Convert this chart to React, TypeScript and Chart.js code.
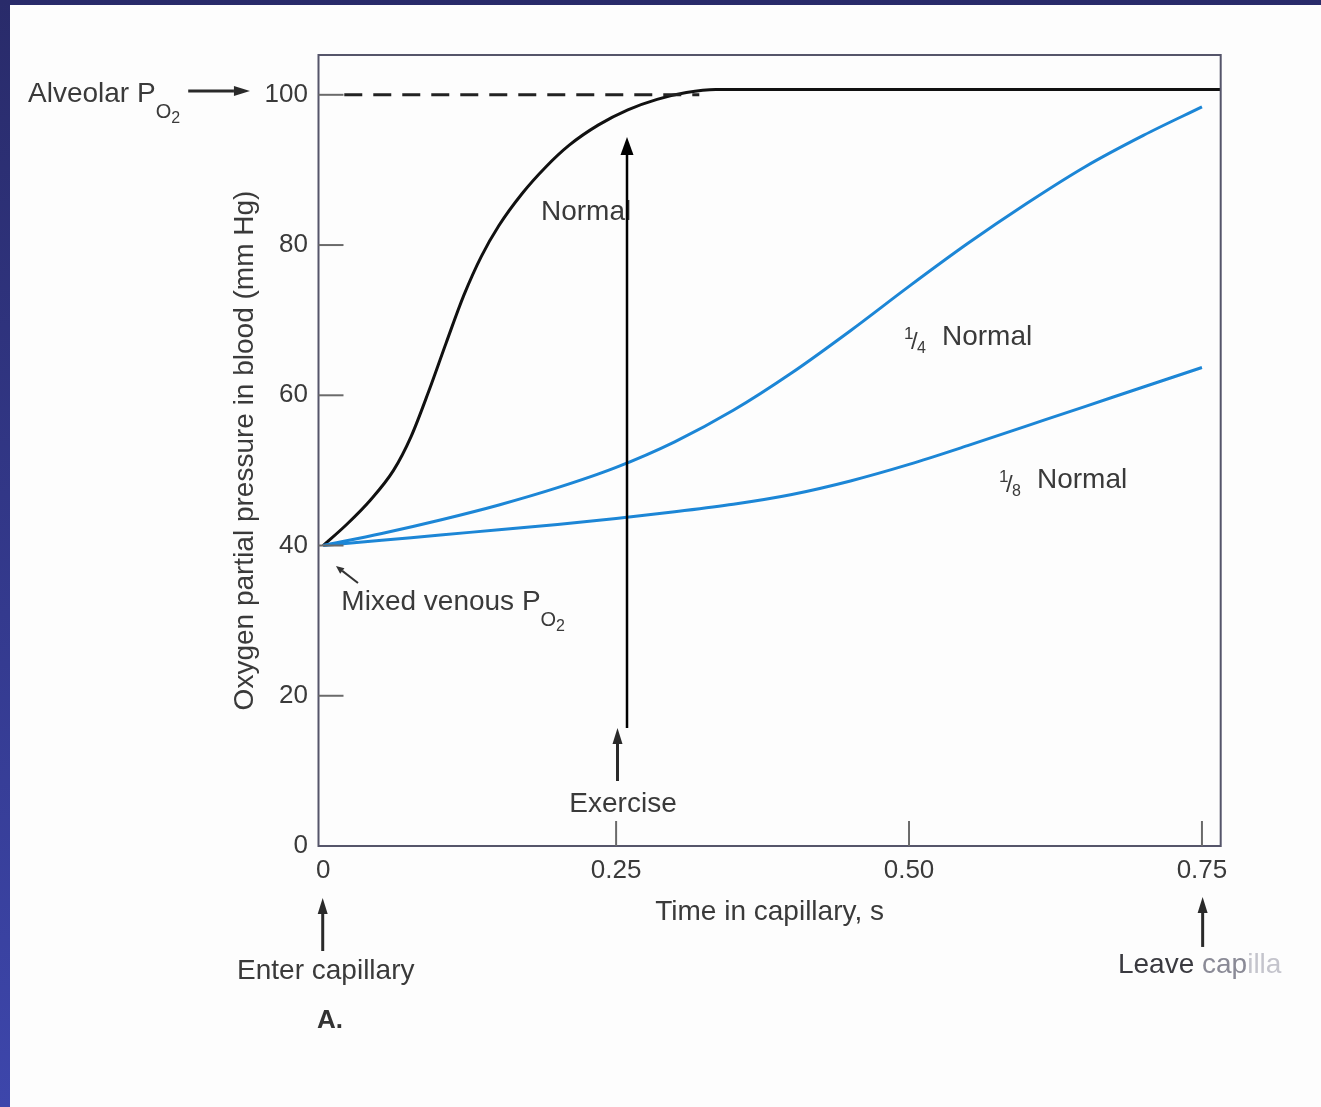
import React, { useEffect, useRef } from "react";
import { Chart, registerables } from "chart.js";

Chart.register(...registerables);

// ---- data (time in capillary, s / PO2 mm Hg) ----
const normalT = [0, 0.02, 0.04, 0.06, 0.075, 0.09, 0.105, 0.12, 0.135, 0.15, 0.17, 0.19, 0.21, 0.235, 0.26, 0.285, 0.31, 0.335, 0.766];
const normalV = [40, 42.8, 46.0, 50.0, 54.5, 60.5, 67.0, 73.3, 78.5, 82.6, 86.9, 90.4, 93.3, 96.0, 98.0, 99.4, 100.3, 100.7, 100.7];

const quarterT = [0, 0.05, 0.1, 0.15, 0.2, 0.25, 0.3, 0.35, 0.4, 0.45, 0.5, 0.55, 0.6, 0.65, 0.7, 0.75];
const quarterV = [40, 41.6, 43.4, 45.4, 47.7, 50.4, 53.8, 58.0, 63.0, 68.6, 74.5, 80.2, 85.5, 90.4, 94.6, 98.4];

const eighthT = [0, 0.05, 0.1, 0.15, 0.2, 0.25, 0.3, 0.35, 0.4, 0.45, 0.5, 0.55, 0.6, 0.65, 0.7, 0.75];
const eighthV = [40, 40.7, 41.4, 42.1, 42.8, 43.6, 44.5, 45.5, 46.8, 48.6, 50.8, 53.3, 55.9, 58.5, 61.1, 63.7];

const alveolarT = [0.018, 0.321];
const alveolarV = [100, 100];

const xTicks = [0, 0.25, 0.5, 0.75];
const xTickLabels = ["0", "0.25", "0.50", "0.75"];
const yTicks = [0, 20, 40, 60, 80, 100];
const yTickLabels = ["0", "20", "40", "60", "80", "100"];

const X_MIN = -0.004;
const X_MAX = 0.766;
const Y_MIN = 0;
const Y_MAX = 105.3;

const X_TITLE = "Time in capillary, s";
const Y_TITLE = "Oxygen partial pressure in blood (mm Hg)";

const FONT = '"Liberation Sans", Arial, Helvetica, sans-serif';
const TEXT = "#3a3a3a";
const BLUE = "#1c86d6";

const pts = (t: number[], v: number[]) => t.map((x, i) => ({ x, y: v[i] }));

function arrow(ctx: CanvasRenderingContext2D, x1: number, y1: number, x2: number, y2: number, hl: number, hw: number, lw: number, color: string) {
  const a = Math.atan2(y2 - y1, x2 - x1);
  const bx = x2 - hl * Math.cos(a);
  const by = y2 - hl * Math.sin(a);
  ctx.save();
  ctx.strokeStyle = color;
  ctx.fillStyle = color;
  ctx.lineWidth = lw;
  ctx.beginPath();
  ctx.moveTo(x1, y1);
  ctx.lineTo(bx, by);
  ctx.stroke();
  ctx.beginPath();
  ctx.moveTo(x2, y2);
  ctx.lineTo(bx + (hw / 2) * Math.sin(a), by - (hw / 2) * Math.cos(a));
  ctx.lineTo(bx - (hw / 2) * Math.sin(a), by + (hw / 2) * Math.cos(a));
  ctx.closePath();
  ctx.fill();
  ctx.restore();
}

function text(ctx: CanvasRenderingContext2D, s: string, x: number, y: number, size: number, color = TEXT, align: CanvasTextAlign = "left", weight = "normal") {
  ctx.font = `${weight} ${size}px ${FONT}`;
  ctx.fillStyle = color;
  ctx.textAlign = align;
  ctx.textBaseline = "alphabetic";
  ctx.fillText(s, x, y);
  return ctx.measureText(s).width;
}

// "P" with subscript O and sub-subscript 2; x,y = left / baseline
function po2(ctx: CanvasRenderingContext2D, x: number, y: number) {
  const w = text(ctx, "P", x, y, 28);
  const w2 = text(ctx, "O", x + w, y + 16, 20);
  text(ctx, "2", x + w + w2, y + 21, 16);
  return w + w2 + 10;
}

// fraction "1/n Normal"; x,y = left / baseline
function fraction(ctx: CanvasRenderingContext2D, den: string, x: number, y: number) {
  text(ctx, "1", x + 1, y - 6, 17);
  text(ctx, "/", x + 8, y + 4, 24);
  text(ctx, den, x + 14, y + 8, 16);
  text(ctx, "Normal", x + 39, y, 28);
}

const framePlugin = {
  id: "frameAndNotes",
  afterDatasetsDraw(chart: any) {
    const ctx: CanvasRenderingContext2D = chart.ctx;
    const { left, right, top, bottom } = chart.chartArea;
    const xs = chart.scales.x;
    const ys = chart.scales.y;
    const X = (t: number) => xs.getPixelForValue(t);
    const Y = (v: number) => ys.getPixelForValue(v);

    ctx.save();
    // frame
    ctx.strokeStyle = "#55556a";
    ctx.lineWidth = 2;
    ctx.strokeRect(left, top, right - left, bottom - top);
    // inward ticks
    ctx.strokeStyle = "#6a6a6a";
    ctx.lineWidth = 2;
    yTicks.forEach((v) => {
      if (v === Y_MIN) return;
      ctx.beginPath();
      ctx.moveTo(left, Y(v));
      ctx.lineTo(left + 25, Y(v));
      ctx.stroke();
    });
    xTicks.forEach((t) => {
      if (t === 0) return;
      ctx.beginPath();
      ctx.moveTo(X(t), bottom);
      ctx.lineTo(X(t), bottom - 25);
      ctx.stroke();
    });

    // curve labels
    text(ctx, "Normal", X(0.1859), Y(83.33), 28);
    fraction(ctx, "4", X(0.4948), Y(66.7));
    fraction(ctx, "8", X(0.5759), Y(47.66));

    // mixed venous
    const mw = text(ctx, "Mixed venous ", X(0.0155), Y(31.42), 28);
    po2(ctx, X(0.0155) + mw, Y(31.42));
    arrow(ctx, X(0.0297), Y(35.01), X(0.0109), Y(37.27), 8, 7, 2, "#333");

    // alveolar
    const aw = text(ctx, "Alveolar ", X(-0.2519), Y(99.04), 28);
    po2(ctx, X(-0.2519) + aw, Y(99.04));
    arrow(ctx, X(-0.1152), Y(100.5), X(-0.0625), Y(100.5), 16, 10, 3, "#2a2a2a");

    // exercise
    arrow(ctx, X(0.2593), Y(15.71), X(0.2593), Y(94.38), 18, 13, 2.5, "#000");
    arrow(ctx, X(0.2512), Y(8.65), X(0.2512), Y(15.71), 16, 10, 3, "#2a2a2a");
    text(ctx, "Exercise", X(0.2559), Y(4.53), 28, TEXT, "center");

    // enter / leave
    arrow(ctx, X(-0.0004), Y(-13.98), X(-0.0004), Y(-6.92), 16, 10, 3, "#2a2a2a");
    text(ctx, "Enter capillary", X(0.0022), Y(-17.7), 28, TEXT, "center");
    text(ctx, "A.", X(-0.0053), Y(-24.2), 26, "#333", "left", "bold");
    arrow(ctx, X(0.7506), Y(-13.44), X(0.7506), Y(-6.79), 16, 10, 3, "#2a2a2a");
    const lw = text(ctx, "Leave ", X(0.6783), Y(-16.9), 28, "#3a3a40");
    const cw = text(ctx, "cap", X(0.6783) + lw, Y(-16.9), 28, "#8a8a96");
    text(ctx, "illa", X(0.6783) + lw + cw, Y(-16.9), 28, "#c4c4cc");
    ctx.restore();
  },
};

export default function App() {
  const ref = useRef<HTMLCanvasElement | null>(null);

  useEffect(() => {
    if (!ref.current) return;
    const chart = new Chart(ref.current, {
      type: "line",
      data: {
        datasets: [
          {
            label: "1/8 Normal",
            data: pts(eighthT, eighthV),
            borderColor: BLUE,
            borderWidth: 3,
            pointRadius: 0,
            cubicInterpolationMode: "monotone",
          },
          {
            label: "1/4 Normal",
            data: pts(quarterT, quarterV),
            borderColor: BLUE,
            borderWidth: 3,
            pointRadius: 0,
            cubicInterpolationMode: "monotone",
          },
          {
            label: "Alveolar PO2",
            data: pts(alveolarT, alveolarV),
            borderColor: "#222",
            borderWidth: 3,
            borderDash: [18, 11],
            pointRadius: 0,
          },
          {
            label: "Normal",
            data: pts(normalT, normalV),
            borderColor: "#111",
            borderWidth: 3,
            pointRadius: 0,
            cubicInterpolationMode: "monotone",
          },
        ],
      },
      options: {
        animation: false,
        responsive: true,
        maintainAspectRatio: false,
        layout: { padding: { left: 200, right: 100.3, top: 50, bottom: 176 } },
        plugins: { legend: { display: false }, tooltip: { enabled: false } },
        scales: {
          x: {
            type: "linear",
            min: X_MIN,
            max: X_MAX,
            afterBuildTicks: (s: any) => {
              s.ticks = xTicks.map((value) => ({ value }));
            },
            afterFit: (s: any) => {
              s.height = 85;
            },
            ticks: {
              callback: (_v: any, i: number) => xTickLabels[i],
              font: { size: 26, family: FONT },
              color: TEXT,
              padding: 9,
              maxRotation: 0,
              autoSkip: false,
            },
            grid: { display: false, drawTicks: false },
            border: { display: false },
            title: {
              display: true,
              text: X_TITLE,
              font: { size: 28, family: FONT },
              color: TEXT,
              padding: { top: 0, bottom: 2 },
            },
          },
          y: {
            type: "linear",
            min: Y_MIN,
            max: Y_MAX,
            afterBuildTicks: (s: any) => {
              s.ticks = yTicks.map((value) => ({ value }));
            },
            afterFit: (s: any) => {
              s.width = 108.5;
            },
            ticks: {
              callback: (_v: any, i: number) => yTickLabels[i],
              font: { size: 26, family: FONT },
              color: TEXT,
              padding: 10.5,
              autoSkip: false,
            },
            grid: { display: false, drawTicks: false },
            border: { display: false },
            title: {
              display: true,
              text: Y_TITLE,
              font: { size: 28, family: FONT },
              color: TEXT,
              padding: { top: 18.2, bottom: 0 },
            },
          },
        },
      } as any,
      plugins: [framePlugin],
    });
    return () => chart.destroy();
  }, []);

  return (
    <div style={{ position: "fixed", inset: 0, background: "linear-gradient(#292b6a, #3d46ab)" }}>
      <div style={{ position: "absolute", left: 10, top: 5, right: 0, bottom: 0, background: "#fdfdfd" }}>
        <canvas ref={ref} />
      </div>
    </div>
  );
}
